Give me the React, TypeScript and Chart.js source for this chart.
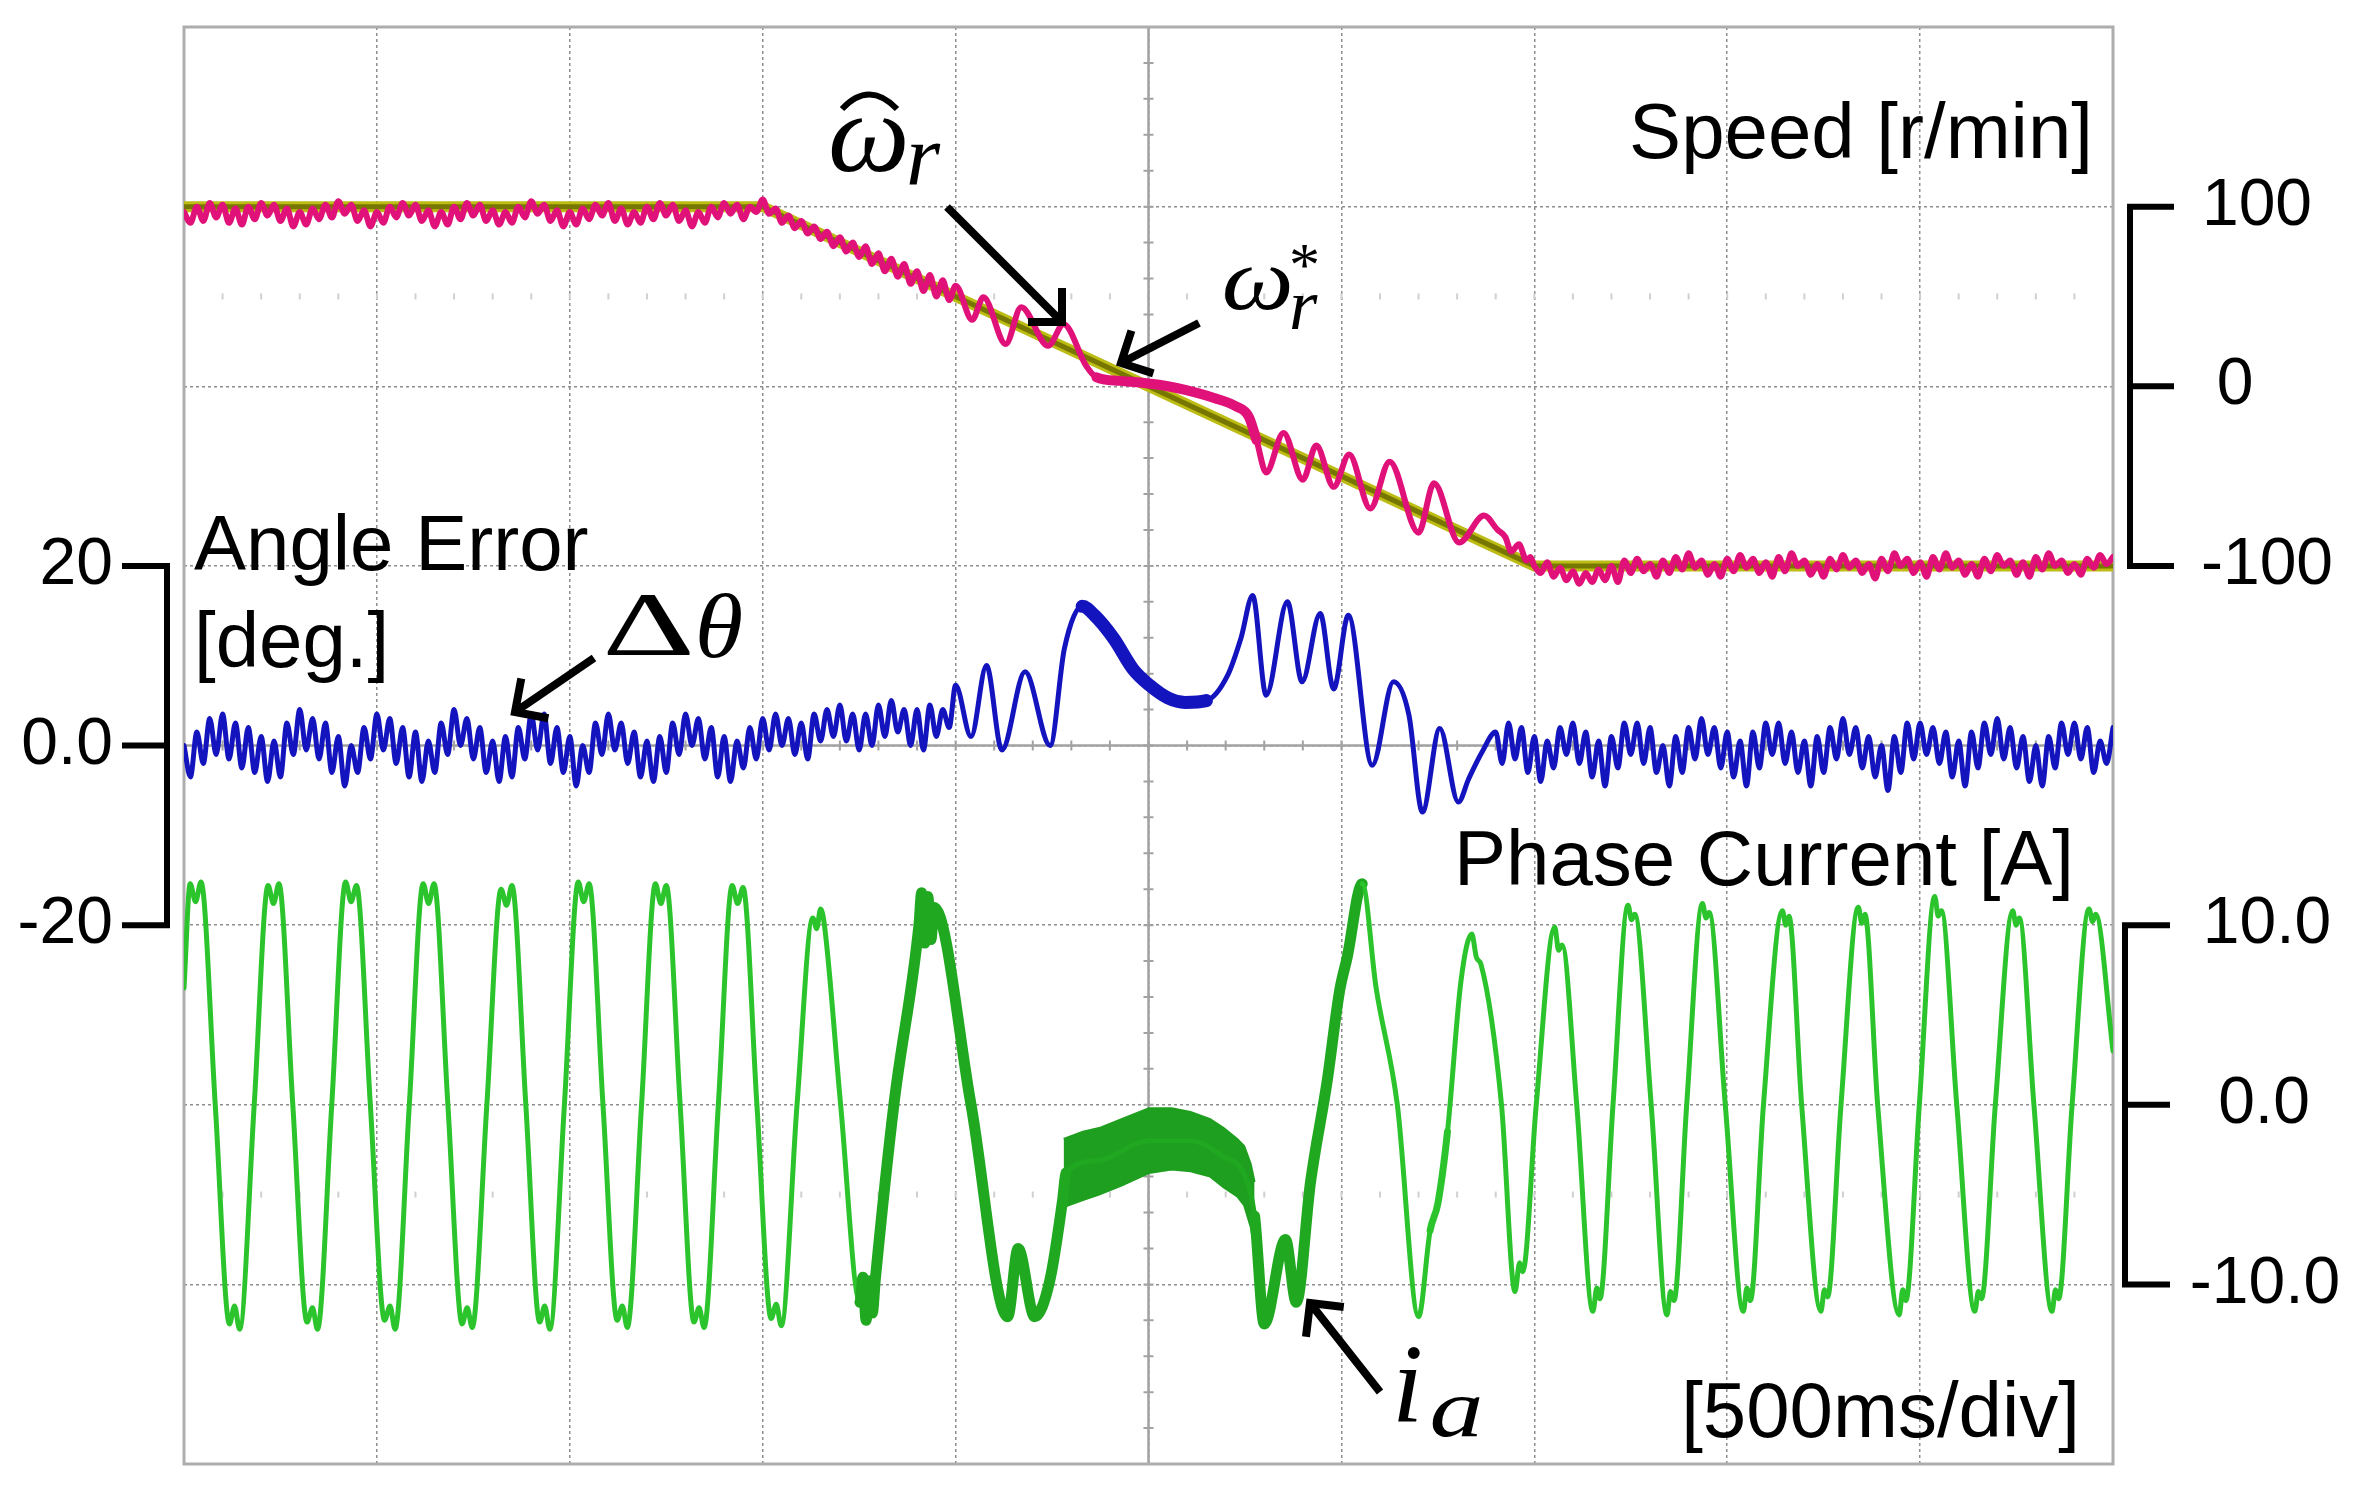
import React, { useEffect, useRef } from 'react';
import { Chart, registerables } from 'chart.js';

Chart.register(...registerables);

type Pair = [number, number];

// ---------------- data ----------------
// time axis: 10 div x 500 ms
const TIME_RANGE: Pair = [0, 5];
const TIME_PER_DIV = 0.5;
const SAMPLE_STEP = 1 / 60; // s between samples of the ripple records

// channel ranges (8 vertical div in total)
const SPEED_RANGE: Pair = [-600, 200];
const ANGLE_RANGE: Pair = [-80, 80];
const CURRENT_RANGE: Pair = [-20, 60];

// speed command  ω*r  [r/min]
const speedRef: Pair[] = [[0, 100], [1.5, 100], [3.5, -100], [5, -100]];

// estimated speed  ω̂r  [r/min]
const speedEstHead: number[] = [
  97, 91, 100, 92, 102, 94, 101, 91, 99, 90, 100, 93,
  102, 95, 101, 92, 99, 89, 97, 90, 99, 93, 101, 94,
  103, 96, 101, 92, 98, 89, 97, 91, 100, 94, 102, 95,
  101, 92, 98, 89, 97, 90, 100, 93, 102, 95, 101, 92,
  98, 90, 97, 91, 100, 94, 103, 96, 101, 92, 98, 89,
  97, 90, 99, 93, 101, 95, 102, 92, 99, 90, 97, 91,
  100, 93, 102, 95, 101, 92, 98, 89, 97, 91, 100, 94,
  102, 96, 101, 93, 100, 97, 104,
  96, 99, 91, 95, 88, 92, 85, 89, 82, 86, 78, 83, 75, 80, 72,
  78, 68, 74, 64, 71, 61, 68, 57, 64, 53, 62, 50, 59, 48, 56,
];
const speedEstMid: Pair[] = [
  [2.043, 37], [2.072, 49.5], [2.130, 23.5], [2.170, 44], [2.240, 22.5], [2.280, 34.5],
  [2.338, 11.5], [2.365, 5], [2.425, 3], [2.500, 1.5], [2.550, 0], [2.595, -2],
  [2.670, -6.5], [2.725, -11], [2.760, -17], [2.780, -30], [2.805, -48], [2.850, -26],
  [2.900, -52], [2.935, -33], [2.980, -56], [3.020, -38], [3.075, -68], [3.125, -42],
  [3.200, -81.5], [3.240, -54], [3.305, -87], [3.370, -72], [3.405, -80], [3.425, -84],
  [3.440, -92], [3.460, -88], [3.480, -97], [3.490, -95],
];
const speedEstTailStart = 3.5;
const speedEstTail: number[] = [
  -100, -104, -98, -106, -101, -108, -103, -110, -104, -109, -102, -108,
  -100, -109, -97, -104, -96, -103, -99, -106, -97, -104, -95, -102,
  -93, -101, -97, -105, -99, -106, -96, -103, -94, -101, -96, -104,
  -98, -106, -95, -103, -93, -100, -97, -105, -99, -106, -96, -102,
  -94, -101, -97, -104, -99, -107, -96, -103, -93, -100, -96, -104,
  -98, -106, -95, -102, -93, -101, -97, -105, -99, -106, -96, -103,
  -94, -100, -97, -105, -98, -106, -95, -102, -93, -100, -97, -104,
  -99, -105, -96, -101, -94, -99, -95,
];

// angle error Δθ [deg]
const angleHead: number[] = [
  0, -3.5, 1.5, -2, 3, -1, 3.5, -1.5, 2.5, -2.5, 2, -3,
  1, -4, 0.5, -3.5, 2.5, -1, 4, -0.5, 3, -1.5, 2.5, -3,
  1, -4.5, 0, -3, 2, -1.5, 3.5, -0.5, 3, -2, 2, -3.5,
  1.5, -4, 0.5, -3, 2.5, -1, 4, 0, 3, -1.5, 2, -3,
  0.5, -4, 1, -3.5, 2, -1.5, 3.5, -0.5, 3.5, -2, 2, -3,
  1, -4.5, 0, -3, 2.5, -1, 3.5, -0.5, 2.5, -2, 1.5, -3.5,
  0.5, -4, 1, -3, 2.5, -1, 3.5, 0, 3, -1.5, 2, -3.5,
  1, -4, 0.5, -2.5,
  2, -1.5, 3, -0.5, 3.5, 0, 3, -1, 2.5, -1.5, 3.5, 0.5,
  4, 1, 4.5, 0.5, 3.5, -0.5, 3.5, 0, 4.5, 1, 5, 1.5,
  4, 0, 4, -0.5, 4.5, 1, 4, 2, 6.7,
];
const angleMid: Pair[] = [
  [2.040, 1.0], [2.080, 8.9], [2.120, -0.5], [2.180, 8.2], [2.245, 0],
  [2.282, 10.8], [2.328, 15.5], [2.360, 14.5], [2.410, 11.9], [2.460, 8.5],
  [2.503, 6.7], [2.550, 5.3], [2.595, 4.8], [2.650, 5.0], [2.705, 7.8],
  [2.740, 12.0], [2.770, 16.7], [2.805, 5.6], [2.860, 16.0], [2.898, 7.1],
  [2.945, 14.7], [2.980, 6.3], [3.018, 14.5], [3.080, -2.2], [3.135, 7.1],
  [3.175, 3.4], [3.210, -7.4], [3.255, 1.9], [3.303, -6.3], [3.330, -3.7],
  [3.365, -0.7],
];
const angleTailStart = 3.4;
const angleTail: number[] = [
  1.5, -2, 2.5, -1.5, 2, -3, 1, -4, 0.5, -2.5, 2, -1,
  2.5, -2, 1.5, -3.5, 0.5, -4.5, 1, -2.5, 2.5, -1, 2.5, -2,
  2, -3, 0, -4.5, 1, -3, 2, -1.5, 3, -1, 2, -2.5,
  1.5, -3.5, 0.5, -4.5, 1.5, -2.5, 2.5, -1, 2.5, -2, 1.5, -3,
  0.5, -4.5, 1, -3, 2, -1.5, 3, -1, 2, -2.5, 1, -3.5,
  0, -5, 1, -3, 2.5, -1.5, 2.5, -1, 2, -2, 1.5, -3.5,
  0.5, -4.5, 1.5, -2.5, 2.5, -1, 3, -1.5, 2, -2.5, 1, -4,
  0, -4.5, 1, -2.5, 2.5, -1, 2.5, -1.5, 2, -3, 0.5, -2, 2,
];

// phase current i_a [A]
const phaseCurrent: Pair[] = [
  [0.000, 6.5],
  [0.016, 12.3], [0.030, 11.3], [0.044, 12.4], [0.081, 0],
  [0.118, -12.2], [0.131, -11.2], [0.144, -12.5], [0.182, 0],
  [0.218, 12.2], [0.232, 11.2], [0.246, 12.3], [0.282, 0],
  [0.319, -12.1], [0.333, -11.3], [0.346, -12.5], [0.383, 0],
  [0.419, 12.4], [0.433, 11.3], [0.447, 12.2], [0.483, 0],
  [0.520, -12.0], [0.534, -11.2], [0.547, -12.5], [0.584, 0],
  [0.620, 12.3], [0.634, 11.2], [0.648, 12.3], [0.684, 0],
  [0.721, -12.2], [0.734, -11.3], [0.747, -12.4], [0.785, 0],
  [0.822, 12.0], [0.836, 11.1], [0.850, 12.2], [0.886, 0],
  [0.922, -12.1], [0.935, -11.2], [0.948, -12.5], [0.986, 0],
  [1.022, 12.4], [1.036, 11.3], [1.050, 12.3], [1.086, 0],
  [1.123, -12.0], [1.136, -11.2], [1.149, -12.4], [1.186, 0],
  [1.222, 12.3], [1.236, 11.2], [1.250, 12.2], [1.286, 0],
  [1.322, -12.1], [1.335, -11.3], [1.348, -12.4], [1.385, 0],
  [1.421, 12.2], [1.435, 11.2], [1.449, 12.1], [1.485, 0],
  [1.522, -11.9], [1.535, -11.1], [1.548, -12.3], [1.589, 0],
  [1.630, 10.4], [1.640, 9.8], [1.650, 10.9], [1.660, 10.0], [1.702, 0],
  [1.752, -11.0], [1.760, -9.6], [1.768, -12.0], [1.776, -9.8], [1.784, -11.6], [1.792, -9.7],
  [1.840, 0],
  [1.905, 10.0], [1.912, 11.8], [1.920, 9.0], [1.928, 11.6], [1.936, 9.2], [1.944, 11.0],
  [2.040, 0],
  [2.135, -11.8], [2.162, -8.0], [2.205, -11.8],
  [2.244, -9.8], [2.278, -5.2], [2.286, -3.8],
  [2.372, -3.1], [2.501, -2.0], [2.609, -2.0], [2.695, -2.9], [2.748, -3.9], [2.775, -6.2],
  [2.800, -12.2], [2.855, -7.5], [2.883, -11.0],
  [2.920, -4.3], [2.963, 1.3], [2.995, 6.3], [3.015, 8.2],
  [3.054, 12.3], [3.090, 6.5], [3.145, 0], [3.200, -11.8],
  [3.230, -7.0], [3.250, -5.5], [3.275, -1.5], [3.310, 6.9],
  [3.338, 9.5], [3.350, 8.2], [3.362, 7.8], [3.415, 0],
  [3.450, -10.4], [3.462, -8.8], [3.470, -9.3], [3.505, 0],
  [3.553, 9.9], [3.563, 8.6], [3.572, 8.9], [3.610, 0],
  [3.652, -11.5], [3.662, -10.2], [3.670, -10.8], [3.704, 0],
  [3.743, 11.1], [3.752, 10.3], [3.760, 10.6], [3.803, 0],
  [3.844, -11.7], [3.853, -10.4], [3.862, -10.9], [3.895, 0],
  [3.936, 11.2], [3.945, 10.4], [3.953, 10.7], [3.995, 0],
  [4.042, -11.5], [4.051, -10.2], [4.060, -10.9], [4.094, 0],
  [4.143, 10.8], [4.152, 10.0], [4.160, 10.5], [4.193, 0],
  [4.243, -11.5], [4.252, -10.3], [4.260, -10.7], [4.295, 0],
  [4.340, 11.0], [4.349, 10.1], [4.357, 10.6], [4.390, 0],
  [4.446, -11.7], [4.455, -10.3], [4.463, -10.9], [4.498, 0],
  [4.538, 11.6], [4.547, 10.5], [4.555, 10.8], [4.595, 0],
  [4.642, -11.5], [4.651, -10.4], [4.659, -10.8], [4.695, 0],
  [4.740, 10.8], [4.749, 10.0], [4.757, 10.4], [4.795, 0],
  [4.842, -11.5], [4.851, -10.3], [4.859, -10.8], [4.894, 0],
  [4.938, 10.9], [4.947, 10.2], [4.955, 10.6], [5.000, 3.0],
];
// envelope of the thick (PWM-ripple) band around zero speed
const currentBandUpper: Pair[] = [
  [2.280, -1.9], [2.330, -1.5], [2.372, -1.3], [2.430, -0.8], [2.501, -0.2], [2.560, -0.2],
  [2.609, -0.4], [2.660, -0.8], [2.695, -1.3], [2.730, -1.9], [2.748, -2.3], [2.765, -3.3], [2.775, -4.3],
];
const currentBandLower: Pair[] = [
  [2.280, -5.7], [2.330, -5.3], [2.372, -5.0], [2.430, -4.5], [2.501, -3.8], [2.560, -3.6],
  [2.609, -3.7], [2.660, -4.0], [2.695, -4.6], [2.730, -5.1], [2.748, -5.6], [2.765, -6.8], [2.775, -8.0],
];

const speedTicks = [100, 0, -100];
const speedTickLabels = ['100', '0', '-100'];
const angleTicks = [20, 0, -20];
const angleTickLabels = ['20', '0.0', '-20'];
const currentTicks = [10, 0, -10];
const currentTickLabels = ['10.0', '0.0', '-10.0'];

// ---------------- styling / layout ----------------
const W = 2361;
const H = 1503;
const SANS = '"Liberation Sans", Arial, Helvetica, sans-serif';
const SERIF = '"Liberation Serif", "Times New Roman", "DejaVu Serif", serif';
const TITLE_FONT = `78px ${SANS}`;
const TICK_FONT = `66px ${SANS}`;
const SPEED_LABEL_DX = [144, 122, 154];
const CURRENT_LABEL_DX = [154, 151, 152];

const toPts = (pairs: Pair[]) => pairs.map(([x, y]) => ({ x, y }));
const sampled = (start: number, vals: number[]) => vals.map((y, i) => ({ x: start + i * SAMPLE_STEP, y }));

function drawBracket(ctx: CanvasRenderingContext2D, xSpine: number, xEnd: number, ys: number[]) {
  const top = Math.min(...ys);
  const bot = Math.max(...ys);
  ctx.beginPath();
  ctx.moveTo(xEnd, top);
  ctx.lineTo(xSpine, top);
  ctx.lineTo(xSpine, bot);
  ctx.lineTo(xEnd, bot);
  for (const y of ys) {
    if (y !== top && y !== bot) {
      ctx.moveTo(xSpine, y);
      ctx.lineTo(xEnd, y);
    }
  }
  ctx.stroke();
}

function drawArrow(ctx: CanvasRenderingContext2D, x0: number, y0: number, x1: number, y1: number) {
  const back = Math.atan2(y0 - y1, x0 - x1);
  const L = 34;
  ctx.beginPath();
  ctx.moveTo(x0, y0);
  ctx.lineTo(x1, y1);
  ctx.moveTo(x1 + L * Math.cos(back + Math.PI / 4), y1 + L * Math.sin(back + Math.PI / 4));
  ctx.lineTo(x1, y1);
  ctx.lineTo(x1 + L * Math.cos(back - Math.PI / 4), y1 + L * Math.sin(back - Math.PI / 4));
  ctx.stroke();
}

// draw a glyph so that its ink box starts at (left, top) with the given ink height (and optional width)
function drawInk(ctx: CanvasRenderingContext2D, text: string, style: string, family: string,
  left: number, top: number, inkH: number, inkW?: number) {
  ctx.font = `${style} 100px ${family}`;
  const m0 = ctx.measureText(text);
  const h0 = m0.actualBoundingBoxAscent + m0.actualBoundingBoxDescent || 50;
  const size = (100 * inkH) / h0;
  ctx.font = `${style} ${size}px ${family}`;
  const m = ctx.measureText(text);
  const w = m.actualBoundingBoxLeft + m.actualBoundingBoxRight || 1;
  const sx = inkW ? inkW / w : 1;
  ctx.save();
  ctx.textAlign = 'left';
  ctx.textBaseline = 'alphabetic';
  ctx.translate(left, top + m.actualBoundingBoxAscent);
  ctx.scale(sx, 1);
  ctx.fillText(text, m.actualBoundingBoxLeft, 0);
  ctx.restore();
}

const scopePlugin = {
  id: 'scopeDecor',
  beforeDatasetsDraw(chart: any) {
    const { ctx, chartArea: a, scales } = chart;
    const xs = scales.x;
    const ds = scales.div;
    ctx.save();
    // faint marker rows
    ctx.fillStyle = '#d0d0d0';
    for (const row of [2.5, -2.5]) {
      const y = ds.getPixelForValue(row);
      for (let t = TIME_RANGE[0]; t <= TIME_RANGE[1] + 1e-6; t += TIME_PER_DIV / 5) {
        ctx.fillRect(xs.getPixelForValue(t) - 1, y - 3, 2, 6);
      }
    }
    // centre cross with minor ticks
    const cx = xs.getPixelForValue((TIME_RANGE[0] + TIME_RANGE[1]) / 2);
    const cy = ds.getPixelForValue(0);
    ctx.strokeStyle = '#a2a2a2';
    ctx.lineWidth = 2.5;
    ctx.beginPath();
    ctx.moveTo(cx, a.top); ctx.lineTo(cx, a.bottom);
    ctx.moveTo(a.left, cy); ctx.lineTo(a.right, cy);
    ctx.stroke();
    ctx.lineWidth = 2;
    ctx.beginPath();
    for (let d = -4; d <= 4.0001; d += 0.2) {
      const y = ds.getPixelForValue(d);
      ctx.moveTo(cx - 5, y); ctx.lineTo(cx + 5, y);
    }
    for (let t = TIME_RANGE[0]; t <= TIME_RANGE[1] + 1e-6; t += TIME_PER_DIV / 5) {
      const x = xs.getPixelForValue(t);
      ctx.moveTo(x, cy - 5); ctx.lineTo(x, cy + 5);
    }
    ctx.stroke();
    // frame
    ctx.strokeStyle = '#adadad';
    ctx.lineWidth = 3;
    ctx.strokeRect(a.left, a.top, a.right - a.left, a.bottom - a.top);
    ctx.restore();
  },
  afterDraw(chart: any) {
    const { ctx, chartArea: a, scales } = chart;
    const ys = scales.ySpeed;
    const ya = scales.yAngle;
    const yc = scales.yCur;
    ctx.save();
    ctx.strokeStyle = '#000';
    ctx.fillStyle = '#000';
    ctx.lineJoin = 'miter';
    ctx.lineCap = 'butt';
    ctx.lineWidth = 6;

    // brackets
    const sy = speedTicks.map((v) => ys.getPixelForValue(v));
    const cyv = currentTicks.map((v) => yc.getPixelForValue(v));
    const ay = angleTicks.map((v) => ya.getPixelForValue(v));
    drawBracket(ctx, a.right + 17, a.right + 61, sy);
    drawBracket(ctx, a.right + 12, a.right + 57, cyv);
    drawBracket(ctx, a.left - 17, a.left - 62, ay);

    ctx.font = TICK_FONT;
    ctx.textBaseline = 'middle';
    ctx.textAlign = 'center';
    speedTickLabels.forEach((s, i) => ctx.fillText(s, a.right + SPEED_LABEL_DX[i], sy[i]));
    currentTickLabels.forEach((s, i) => ctx.fillText(s, a.right + CURRENT_LABEL_DX[i], cyv[i]));
    ctx.textAlign = 'right';
    angleTickLabels.forEach((s, i) => ctx.fillText(s, a.left - 71, ay[i]));

    // channel titles
    ctx.font = TITLE_FONT;
    ctx.textBaseline = 'alphabetic';
    ctx.textAlign = 'right';
    ctx.fillText('Speed [r/min]', a.right - 20, 158);
    ctx.fillText('Phase Current [A]', a.right - 39, 885);
    ctx.fillText('[500ms/div]', a.right - 33, 1437);
    ctx.textAlign = 'left';
    ctx.fillText('Angle Error', a.left + 10, 570);
    ctx.fillText('[deg.]', a.left + 10, 667);

    // math labels
    drawInk(ctx, 'ω', 'italic', SERIF, 831, 118, 54, 74);
    drawInk(ctx, 'r', 'italic', SERIF, 909, 143, 42);
    ctx.lineWidth = 6;
    ctx.beginPath();
    ctx.moveTo(842, 109);
    ctx.quadraticCurveTo(869, 80, 897, 109);
    ctx.stroke();

    drawInk(ctx, 'ω', 'italic', SERIF, 1224, 267, 43, 66);
    drawInk(ctx, 'r', 'italic', SERIF, 1291, 295, 35);
    drawInk(ctx, '*', 'normal', SERIF, 1292, 245, 23);

    drawInk(ctx, 'Δ', 'normal', SERIF, 607, 595, 60, 84);
    drawInk(ctx, 'θ', 'italic', SERIF, 699, 593, 65, 42);

    drawInk(ctx, 'i', 'italic', SERIF, 1398, 1347, 75);
    drawInk(ctx, 'a', 'italic', SERIF, 1432, 1397, 40, 48);

    // arrows
    ctx.lineWidth = 8;
    drawArrow(ctx, 947, 207, 1062, 322);
    drawArrow(ctx, 1199, 323, 1121, 363);
    drawArrow(ctx, 594, 658, 515, 712);
    drawArrow(ctx, 1380, 1392, 1310, 1303);
    ctx.restore();
  },
};

const inRange = (c: any, lo: number, hi: number) => c.p0.parsed.x >= lo && c.p1.parsed.x <= hi;

export default function App() {
  const ref = useRef<HTMLCanvasElement | null>(null);

  useEffect(() => {
    if (!ref.current) return;
    const omegaHat = [...sampled(0, speedEstHead), ...toPts(speedEstMid), ...sampled(speedEstTailStart, speedEstTail)];
    const dTheta = [...sampled(0, angleHead), ...toPts(angleMid), ...sampled(angleTailStart, angleTail)];

    const chart = new Chart(ref.current, {
      type: 'line',
      data: {
        datasets: [
          {
            label: 'ω̂r', data: omegaHat, yAxisID: 'ySpeed', borderColor: '#e0127a', borderWidth: 6,
            cubicInterpolationMode: 'monotone', order: 1, borderJoinStyle: 'round', borderCapStyle: 'round',
            segment: { borderWidth: (c: any) => (inRange(c, 2.36, 2.79) ? 10 : undefined) },
          },
          {
            label: 'ω*r', data: toPts(speedRef), yAxisID: 'ySpeed', borderColor: '#777700', borderWidth: 5, order: 2,
          },
          {
            label: 'ω*r halo', data: toPts(speedRef), yAxisID: 'ySpeed', borderColor: '#bcbc14', borderWidth: 11, order: 3,
          },
          {
            label: 'Δθ', data: dTheta, yAxisID: 'yAngle', borderColor: '#1414bf', borderWidth: 5,
            cubicInterpolationMode: 'monotone', order: 4, borderJoinStyle: 'round', borderCapStyle: 'round',
            segment: { borderWidth: (c: any) => (inRange(c, 2.29, 2.68) ? 13 : undefined) },
          },
          {
            label: 'ia', data: toPts(phaseCurrent), yAxisID: 'yCur', borderColor: '#2cc42c', borderWidth: 5,
            cubicInterpolationMode: 'monotone', order: 5, borderJoinStyle: 'round', borderCapStyle: 'round',
            segment: {
              borderWidth: (c: any) => (inRange(c, 1.74, 2.30) || inRange(c, 2.77, 3.07) ? 11
                : inRange(c, 3.22, 3.30) ? 7 : undefined),
              borderColor: (c: any) => (inRange(c, 1.74, 3.07) ? '#21a821' : undefined),
            },
          },
          {
            label: 'ia band upper', data: toPts(currentBandUpper), yAxisID: 'yCur', borderColor: '#1f9f1f',
            backgroundColor: '#1f9f1f', borderWidth: 2, fill: '+1', order: 6,
          },
          {
            label: 'ia band lower', data: toPts(currentBandLower), yAxisID: 'yCur', borderColor: '#1f9f1f',
            borderWidth: 2, order: 7,
          },
        ],
      },
      options: {
        animation: false,
        responsive: false,
        devicePixelRatio: 1,
        events: [],
        layout: { padding: { left: 184, right: 248, top: 27, bottom: 39 }, autoPadding: false },
        plugins: { legend: { display: false }, tooltip: { enabled: false } },
        elements: { point: { radius: 0 }, line: { tension: 0 } },
        scales: {
          x: {
            type: 'linear', min: TIME_RANGE[0], max: TIME_RANGE[1],
            ticks: { display: false, stepSize: TIME_PER_DIV },
            grid: { color: '#8e8e8e', lineWidth: 1.5, drawTicks: false },
            border: { display: false, dash: [3, 3] },
          },
          div: {
            type: 'linear', axis: 'y', position: 'left', min: -4, max: 4,
            ticks: { display: false, stepSize: 1 },
            grid: { color: '#8e8e8e', lineWidth: 1.5, drawTicks: false },
            border: { display: false, dash: [3, 3] },
          },
          ySpeed: { type: 'linear', display: false, min: SPEED_RANGE[0], max: SPEED_RANGE[1] },
          yAngle: { type: 'linear', display: false, min: ANGLE_RANGE[0], max: ANGLE_RANGE[1] },
          yCur: { type: 'linear', display: false, min: CURRENT_RANGE[0], max: CURRENT_RANGE[1] },
        },
      } as any,
      plugins: [scopePlugin],
    });
    return () => chart.destroy();
  }, []);

  return (
    <div style={{ position: 'absolute', left: 0, top: 0, width: W, height: H, background: '#ffffff' }}>
      <canvas ref={ref} width={W} height={H} style={{ display: 'block' }} />
    </div>
  );
}
